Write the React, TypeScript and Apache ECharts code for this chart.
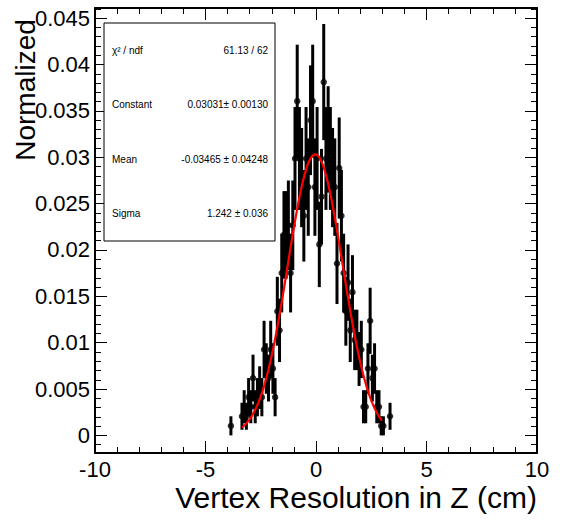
import React, { useEffect, useRef } from "react";
import * as echarts from "echarts";

// Bin centres (cm), bin width 0.1
const BIN_CENTERS: number[] = [
  -3.85, -3.75, -3.65, -3.55, -3.45, -3.35, -3.25, -3.15, -3.05, -2.95,
  -2.85, -2.75, -2.65, -2.55, -2.45, -2.35, -2.25, -2.15, -2.05, -1.95,
  -1.85, -1.75, -1.65, -1.55, -1.45, -1.35, -1.25, -1.15, -1.05, -0.95,
  -0.85, -0.75, -0.65, -0.55, -0.45, -0.35, -0.25, -0.15, -0.05, 0.05,
  0.15, 0.25, 0.35, 0.45, 0.55, 0.65, 0.75, 0.85, 0.95, 1.05,
  1.15, 1.25, 1.35, 1.45, 1.55, 1.65, 1.75, 1.85, 1.95, 2.05,
  2.15, 2.25, 2.35, 2.45, 2.55, 2.65, 2.75, 2.85, 2.95, 3.05,
  3.15, 3.25, 3.35,
];
// Raw entries per bin
const COUNTS: number[] = [
  1, 0, 0, 0, 0, 2, 3, 2, 4, 3,
  6, 3, 4, 5, 4, 9, 7, 6, 9, 7,
  4, 13, 11, 17, 21, 21, 22, 17, 22, 29,
  35, 29, 27, 23, 29, 26, 33, 35, 26, 29,
  20, 25, 37, 29, 31, 29, 27, 26, 18, 28,
  23, 17, 13, 16, 11, 15, 10, 10, 8, 9,
  3, 3, 7, 12, 6, 7, 3, 3, 1, 1,
  0, 0, 2,
];
// Normalisation: value of one entry
const NORM = 0.00103;

// Gaussian fit parameters (from stats box)
const FIT_CONSTANT = 0.03031;
const FIT_MEAN = -0.03465;
const FIT_SIGMA = 1.242;
const FIT_RANGE: [number, number] = [-3.35, 2.98];

const STATS_ROWS: [string, string][] = [
  ["\u03C7\u00B2 / ndf", "61.13 / 62"],
  ["Constant", "0.03031\u00B1 0.00130"],
  ["Mean", "-0.03465 \u00B1 0.04248"],
  ["Sigma", "1.242 \u00B1 0.036"],
];

const Y_MAJOR: number[] = [0, 0.005, 0.01, 0.015, 0.02, 0.025, 0.03, 0.035, 0.04, 0.045];
const Y_MIN = -0.0019;
const Y_MAX = 0.0461;
const X_MIN = -10;
const X_MAX = 10;

const X_TITLE = "Vertex Resolution in Z (cm)";
const Y_TITLE = "Normalized";

const FONT = "'Liberation Sans', Arial, Helvetica, sans-serif";

export default function App() {
  const ref = useRef<HTMLDivElement>(null);
  useEffect(() => {
    if (!ref.current) return;
    const chart = echarts.init(ref.current, undefined, { renderer: "svg" });

    const pts: number[][] = [];
    BIN_CENTERS.forEach((x, i) => {
      const c = COUNTS[i];
      if (c > 0) pts.push([x, c * NORM, Math.sqrt(c) * NORM]);
    });

    const fit: number[][] = [];
    const n = 200;
    for (let k = 0; k <= n; k++) {
      const x = FIT_RANGE[0] + ((FIT_RANGE[1] - FIT_RANGE[0]) * k) / n;
      const y = FIT_CONSTANT * Math.exp(-0.5 * Math.pow((x - FIT_MEAN) / FIT_SIGMA, 2));
      fit.push([x, y]);
    }

    const yMinor: number[] = [];
    for (let k = -1; k <= 46; k++) {
      const v = k * 0.001;
      if (v >= Y_MIN && v <= Y_MAX) yMinor.push(v);
    }

    const axisLine = { show: true, onZero: false, lineStyle: { color: "#000", width: 2 } };
    const xAxisBase = {
      type: "value",
      min: X_MIN,
      max: X_MAX,
      interval: 5,
      splitLine: { show: false },
      axisLine,
      axisTick: { show: true, inside: true, length: 12, lineStyle: { color: "#000", width: 1 } },
      minorTick: { show: true, splitNumber: 5, length: 6, lineStyle: { color: "#000", width: 1 } },
      minorSplitLine: { show: false },
    };
    const yAxisMajor = (pos: string, labels: boolean) => ({
      type: "value",
      position: pos,
      min: Y_MIN,
      max: Y_MAX,
      splitLine: { show: false },
      axisLine,
      axisTick: {
        show: true,
        inside: true,
        length: 12,
        customValues: Y_MAJOR,
        lineStyle: { color: "#000", width: 1 },
      },
      axisLabel: labels
        ? {
            show: true,
            customValues: Y_MAJOR,
            formatter: (v: number) => String(+v.toFixed(4)),
            color: "#000",
            fontSize: 22,
            fontFamily: FONT,
            margin: 5,
          }
        : { show: false },
    });
    const yAxisMinor = (pos: string) => ({
      type: "value",
      position: pos,
      min: Y_MIN,
      max: Y_MAX,
      splitLine: { show: false },
      axisLine: { show: false, onZero: false },
      axisTick: {
        show: true,
        inside: true,
        length: 6,
        customValues: yMinor,
        lineStyle: { color: "#000", width: 1 },
      },
      axisLabel: { show: false },
    });

    chart.setOption({
      animation: false,
      backgroundColor: "#fff",
      grid: { left: 95, right: 25, top: 8, bottom: 72, containLabel: false },
      xAxis: [
        {
          ...xAxisBase,
          position: "bottom",
          axisLabel: {
            show: true,
            color: "#000",
            fontSize: 22,
            fontFamily: FONT,
            margin: 5,
            showMinLabel: true,
            showMaxLabel: true,
          },
        },
        { ...xAxisBase, position: "top", axisLabel: { show: false } },
      ],
      yAxis: [
        yAxisMajor("left", true),
        yAxisMinor("left"),
        yAxisMajor("right", false),
        yAxisMinor("right"),
      ],
      series: [
        {
          type: "custom",
          xAxisIndex: 0,
          yAxisIndex: 0,
          data: pts,
          z: 3,
          renderItem: (params: any, api: any) => {
            const x = api.value(0);
            const y = api.value(1);
            const e = api.value(2);
            const p1 = api.coord([x, y - e]);
            const p2 = api.coord([x, y + e]);
            return {
              type: "line",
              shape: { x1: p1[0], y1: p1[1], x2: p2[0], y2: p2[1] },
              style: { stroke: "#000", lineWidth: 3 },
            };
          },
        },
        {
          type: "scatter",
          xAxisIndex: 0,
          yAxisIndex: 0,
          data: pts.map((p) => [p[0], p[1]]),
          symbol: "circle",
          symbolSize: 6.5,
          itemStyle: { color: "#000" },
          z: 4,
        },
        {
          type: "line",
          xAxisIndex: 0,
          yAxisIndex: 0,
          data: fit,
          showSymbol: false,
          symbol: "none",
          lineStyle: { color: "#ff0000", width: 2.2 },
          z: 5,
        },
      ],
      graphic: [
        {
          type: "rect",
          z: 100,
          shape: { x: 104, y: 23, width: 171, height: 218 },
          style: { fill: "#fff", stroke: "#000", lineWidth: 1 },
        },
        ...STATS_ROWS.flatMap((row, i) => {
          const y = 23 + 218 * ((i + 0.5) / STATS_ROWS.length);
          return [
            {
              type: "text",
              z: 101,
              x: 112,
              y,
              style: {
                text: row[0],
                fill: "#000",
                font: `10px ${FONT}`,
                textAlign: "left",
                textVerticalAlign: "middle",
              },
            },
            {
              type: "text",
              z: 101,
              x: 268,
              y,
              style: {
                text: row[1],
                fill: "#000",
                font: `10px ${FONT}`,
                textAlign: "right",
                textVerticalAlign: "middle",
              },
            },
          ];
        }),
        {
          type: "text",
          z: 101,
          x: 537,
          y: 497,
          style: {
            text: X_TITLE,
            fill: "#000",
            font: `30px ${FONT}`,
            textAlign: "right",
            textVerticalAlign: "middle",
          },
        },
        {
          type: "text",
          z: 101,
          x: 25,
          y: 90,
          rotation: Math.PI / 2,
          style: {
            text: Y_TITLE,
            fill: "#000",
            font: `28px ${FONT}`,
            textAlign: "center",
            textVerticalAlign: "middle",
          },
        },
      ],
    });
    return () => chart.dispose();
  }, []);
  return (
    <div
      ref={ref}
      style={{ position: "absolute", left: 0, top: 0, width: 562, height: 525 }}
    />
  );
}
